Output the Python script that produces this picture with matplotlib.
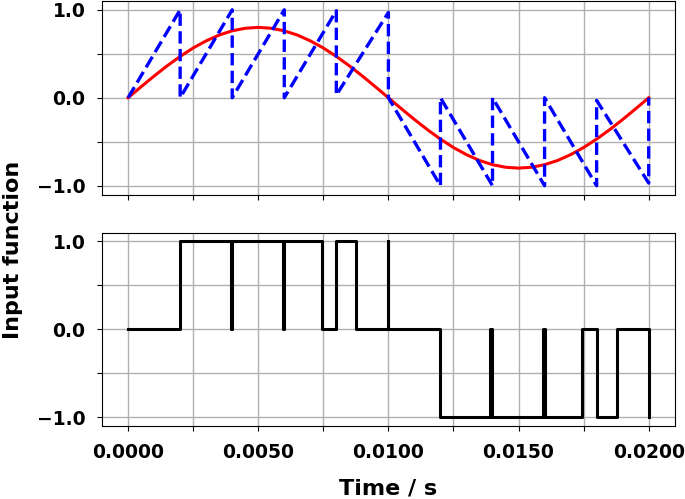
import matplotlib.pyplot as plt
import numpy as np

# reference sine, read every 0.5 ms
t_sine = [0.0000, 0.0005, 0.0010, 0.0015, 0.0020, 0.0025, 0.0030, 0.0035, 0.0040, 0.0045,
          0.0050, 0.0055, 0.0060, 0.0065, 0.0070, 0.0075, 0.0080, 0.0085, 0.0090, 0.0095,
          0.0100, 0.0105, 0.0110, 0.0115, 0.0120, 0.0125, 0.0130, 0.0135, 0.0140, 0.0145,
          0.0150, 0.0155, 0.0160, 0.0165, 0.0170, 0.0175, 0.0180, 0.0185, 0.0190, 0.0195,
          0.0200]
y_sine = [0.000, 0.125, 0.247, 0.363, 0.470, 0.566, 0.647, 0.713, 0.761, 0.790,
          0.800, 0.790, 0.761, 0.713, 0.647, 0.566, 0.470, 0.363, 0.247, 0.125,
          0.000, -0.125, -0.247, -0.363, -0.470, -0.566, -0.647, -0.713, -0.761, -0.790,
          -0.800, -0.790, -0.761, -0.713, -0.647, -0.566, -0.470, -0.363, -0.247, -0.125,
          0.000]

# carrier sawtooth (corner points)
t_saw = [0.0, 0.002, 0.002, 0.004, 0.004, 0.006, 0.006, 0.008, 0.008, 0.010, 0.010,
         0.012, 0.012, 0.014, 0.014, 0.016, 0.016, 0.018, 0.018, 0.020, 0.020]
y_saw = [0.0, 1.0, 0.0, 1.0, 0.0, 1.0, 0.0, 0.99, 0.03, 0.97, 0.0,
         -1.0, 0.0, -1.0, 0.0, -1.0, 0.0, -1.0, -0.03, -0.97, 0.0]

# switched output (steps-post change points)
t_out = [0.0, 0.002, 0.00395, 0.00399, 0.00596, 0.006, 0.00745, 0.008, 0.00877, 0.010,
         0.010, 0.012, 0.01391, 0.01398, 0.01595, 0.01600, 0.01745, 0.018, 0.01877, 0.020]
y_out = [0, 1, 0, 1, 0, 1, 0, 1, 0, 1,
         0, -1, 0, -1, 0, -1, 0, -1, 0, -1]

xticks = np.arange(0, 0.02001, 0.0025)
xlabels = [f"{v:.4f}" if i % 2 == 0 else "" for i, v in enumerate(xticks)]
yticks = [-1.0, -0.5, 0.0, 0.5, 1.0]
ylabels = ["\u22121.0", "", "0.0", "", "1.0"]

fig, (ax1, ax2) = plt.subplots(2, 1, sharex=True, figsize=(6.85, 4.99), dpi=100)
ax1.plot(t_sine, y_sine, color="red", lw=2.2)
ax1.plot(t_saw, y_saw, color="blue", lw=2.4, ls="--")
ax2.plot(t_out, y_out, color="black", lw=2.2, drawstyle="steps-post")

for ax in (ax1, ax2):
    ax.set_yticks(yticks)
    ax.set_yticklabels(ylabels, fontweight="bold", fontsize=13.5)
    ax.grid(True, color="#b0b0b0", lw=1)
    ax.set_ylim(-1.1, 1.1)
    ax.tick_params(axis="both", pad=8.5)
ax2.set_xticks(xticks)
ax2.set_xticklabels(xlabels, fontweight="bold", fontsize=13.5)
ax2.set_xlim(-0.001, 0.021)
ax2.set_xlabel("Time / s", fontweight="bold", fontsize=16, labelpad=12)
fig.supylabel("Input function", fontweight="bold", fontsize=16, x=0.004)

fig.subplots_adjust(left=0.149, right=0.985, top=0.998, bottom=0.146, hspace=0.197)
fig.savefig("out.png", dpi=100)
